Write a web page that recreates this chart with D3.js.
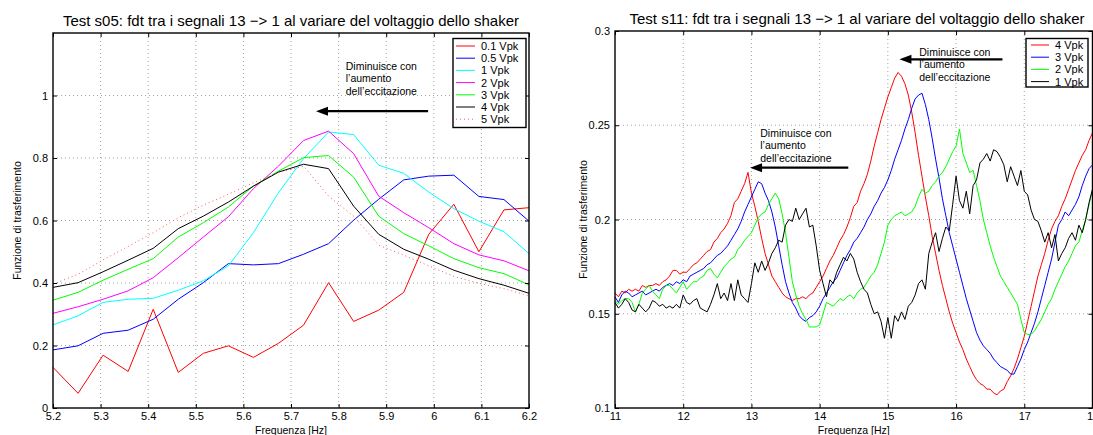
<!DOCTYPE html>
<html>
<head>
<meta charset="utf-8">
<script src="https://cdn.jsdelivr.net/npm/d3@7"></script>
<style>
body{margin:0;background:#fff;}
svg{display:block;font-family:"Liberation Sans",Arial,Helvetica,sans-serif;}
.grid line{stroke:#8c8c8c;stroke-width:0.8;stroke-dasharray:1,3;}
.axis text{font-size:11px;fill:#000;}
.axis line{stroke:#000;}
.axis path{display:none;}
</style>
</head>
<body>
<svg id="chart" width="1093" height="435"></svg>
<script>
// Test s05 : 20 campioni fra 5.2 e 6.2 Hz
const s05_freq = d3.range(20).map(i => 5.2 + i / 19);
const s05_01 = [0.130,0.047,0.169,0.117,0.316,0.114,0.175,0.199,0.162,0.207,0.265,0.401,0.277,0.313,0.370,0.556,0.652,0.500,0.634,0.641];
const s05_05 = [0.186,0.199,0.239,0.249,0.284,0.348,0.401,0.462,0.458,0.462,0.492,0.526,0.601,0.668,0.730,0.742,0.745,0.677,0.667,0.598];
const s05_1 = [0.266,0.295,0.338,0.348,0.351,0.377,0.407,0.455,0.561,0.689,0.798,0.883,0.875,0.777,0.751,0.691,0.638,0.598,0.564,0.494];
const s05_2 = [0.303,0.324,0.348,0.375,0.417,0.481,0.547,0.612,0.702,0.774,0.856,0.886,0.814,0.678,0.625,0.577,0.526,0.490,0.471,0.439];
const s05_3 = [0.345,0.370,0.409,0.444,0.478,0.547,0.593,0.643,0.710,0.758,0.801,0.808,0.739,0.614,0.558,0.519,0.478,0.449,0.430,0.394];
const s05_4 = [0.386,0.401,0.436,0.473,0.511,0.574,0.614,0.659,0.710,0.755,0.780,0.766,0.646,0.556,0.508,0.476,0.441,0.414,0.393,0.367];
const s05_5 = [0.396,0.428,0.474,0.517,0.561,0.609,0.649,0.684,0.721,0.753,0.774,0.678,0.614,0.521,0.489,0.455,0.421,0.399,0.382,0.359];
const s05_labels = ['0.1 Vpk','0.5 Vpk','1 Vpk','2 Vpk','3 Vpk','4 Vpk','5 Vpk'];
const s05_xticks = [5.2,5.3,5.4,5.5,5.6,5.7,5.8,5.9,6,6.1,6.2];
const s05_yticks = [0,0.2,0.4,0.6,0.8,1];

// Test s11 : passo 0.05 Hz fra 11 e 18 Hz
const s11_freq = d3.range(141).map(i => 11 + i * 0.05);
const s11_4 = [
  0.161,0.159,0.162,0.161,0.163,0.162,0.163,0.162,0.165,0.164,0.165,0.165,0.166,0.165,0.167,0.168,0.170,0.173,0.173,0.171,
  0.172,0.172,0.174,0.176,0.177,0.179,0.181,0.183,0.184,0.188,0.190,0.193,0.195,0.198,0.202,0.209,0.211,0.215,0.219,0.225,
  0.214,0.207,0.199,0.190,0.182,0.176,0.170,0.167,0.164,0.161,0.159,0.158,0.157,0.158,0.158,0.159,0.158,0.160,0.161,0.164,
  0.167,0.170,0.174,0.178,0.181,0.185,0.189,0.192,0.196,0.201,0.207,0.209,0.215,0.219,0.224,0.231,0.239,0.246,0.253,0.259,
  0.265,0.270,0.275,0.278,0.276,0.272,0.266,0.257,0.246,0.234,0.223,0.212,0.202,0.191,0.182,0.173,0.165,0.158,0.151,0.145,
  0.140,0.135,0.131,0.126,0.122,0.118,0.115,0.113,0.112,0.110,0.110,0.108,0.107,0.109,0.110,0.114,0.117,0.121,0.126,0.132,
  0.138,0.146,0.154,0.162,0.170,0.176,0.182,0.189,0.195,0.199,0.202,0.207,0.211,0.216,0.221,0.226,0.230,0.234,0.237,0.242,
  0.246];
const s11_3 = [
  0.159,0.156,0.160,0.162,0.161,0.159,0.160,0.161,0.162,0.160,0.161,0.162,0.163,0.162,0.164,0.165,0.166,0.165,0.167,0.166,
  0.168,0.167,0.170,0.171,0.172,0.173,0.174,0.176,0.177,0.179,0.181,0.182,0.184,0.186,0.189,0.192,0.195,0.199,0.204,0.208,
  0.212,0.216,0.220,0.219,0.214,0.210,0.204,0.196,0.186,0.176,0.167,0.161,0.156,0.153,0.149,0.147,0.146,0.148,0.149,0.151,
  0.154,0.158,0.161,0.164,0.167,0.169,0.173,0.177,0.181,0.184,0.188,0.190,0.193,0.196,0.200,0.203,0.207,0.210,0.214,0.217,
  0.221,0.226,0.232,0.237,0.242,0.248,0.253,0.259,0.264,0.266,0.267,0.261,0.253,0.243,0.232,0.222,0.211,0.202,0.193,0.186,
  0.179,0.172,0.165,0.158,0.152,0.146,0.140,0.136,0.133,0.131,0.129,0.126,0.124,0.122,0.121,0.120,0.118,0.118,0.122,0.126,
  0.131,0.135,0.140,0.145,0.151,0.158,0.165,0.172,0.179,0.188,0.197,0.200,0.204,0.202,0.205,0.208,0.212,0.218,0.223,0.227,
  0.229];
const s11_2 = [
  0.157,0.155,0.157,0.158,0.158,0.156,0.151,0.155,0.161,0.163,0.165,0.162,0.160,0.158,0.163,0.165,0.165,0.163,0.161,0.164,
  0.167,0.163,0.165,0.167,0.167,0.169,0.170,0.173,0.174,0.171,0.169,0.172,0.175,0.177,0.179,0.180,0.184,0.186,0.189,0.191,
  0.193,0.197,0.201,0.203,0.204,0.208,0.211,0.214,0.211,0.203,0.193,0.180,0.167,0.160,0.154,0.150,0.147,0.143,0.143,0.143,
  0.144,0.150,0.156,0.155,0.154,0.156,0.158,0.157,0.159,0.160,0.158,0.161,0.163,0.164,0.167,0.170,0.172,0.176,0.182,0.188,
  0.197,0.200,0.202,0.203,0.204,0.202,0.203,0.204,0.207,0.212,0.216,0.214,0.215,0.218,0.220,0.223,0.225,0.228,0.232,0.236,
  0.239,0.248,0.235,0.230,0.225,0.226,0.218,0.210,0.200,0.193,0.186,0.180,0.175,0.170,0.167,0.164,0.161,0.158,0.155,0.147,
  0.140,0.139,0.139,0.141,0.144,0.147,0.151,0.155,0.158,0.163,0.167,0.171,0.175,0.178,0.182,0.186,0.188,0.194,0.200,0.208,
  0.216];
const s11_1 = [
  0.156,0.153,0.155,0.158,0.156,0.152,0.151,0.155,0.153,0.151,0.153,0.157,0.156,0.154,0.155,0.153,0.154,0.153,0.155,0.153,
  0.160,0.156,0.155,0.157,0.158,0.153,0.152,0.151,0.155,0.160,0.166,0.158,0.161,0.157,0.166,0.157,0.168,0.160,0.158,0.156,
  0.166,0.177,0.172,0.178,0.173,0.177,0.182,0.185,0.189,0.188,0.197,0.200,0.199,0.206,0.200,0.203,0.206,0.196,0.197,0.186,
  0.173,0.166,0.159,0.168,0.166,0.172,0.176,0.180,0.178,0.182,0.179,0.172,0.167,0.163,0.161,0.155,0.150,0.151,0.146,0.137,
  0.148,0.137,0.149,0.146,0.151,0.147,0.154,0.156,0.160,0.166,0.168,0.163,0.182,0.188,0.193,0.183,0.190,0.196,0.194,0.208,
  0.223,0.210,0.206,0.215,0.203,0.218,0.221,0.230,0.232,0.235,0.231,0.237,0.236,0.233,0.229,0.220,0.228,0.223,0.218,0.226,
  0.215,0.213,0.205,0.200,0.199,0.194,0.188,0.193,0.185,0.192,0.178,0.182,0.185,0.190,0.193,0.189,0.197,0.193,0.200,0.209,
  0.216];
const s11_labels = ['4 Vpk','3 Vpk','2 Vpk','1 Vpk'];
const s11_xticks = [11,12,13,14,15,16,17,18];
const s11_yticks = [0.1,0.15,0.2,0.25,0.3];

const note_lines = ['Diminuisce con', 'l\u2019aumento', 'dell\u2019eccitazione'];

const svg = d3.select('#chart');
const fmt = d3.format('~g');

function draw_arrow(g, x_tail, x_tip, y0){
    g.append('line')
        .attr('x1', x_tail).attr('x2', x_tip + 8)
        .attr('y1', y0).attr('y2', y0)
        .attr('stroke', '#000').attr('stroke-width', 2.2);
    g.append('path')
        .attr('d', `M${x_tip},${y0} L${x_tip + 12},${y0 - 4.5} L${x_tip + 12},${y0 + 4.5} Z`)
        .attr('fill', '#000');
}

function draw_panel(opt){
    const g = svg.append('g');
    const x = d3.scaleLinear(opt.x_domain, [opt.left, opt.right]);
    const y = d3.scaleLinear(opt.y_domain, [opt.bottom, opt.top]);

    // griglia tratteggiata
    const grid = g.append('g').attr('class', 'grid');
    grid.selectAll('.gx')
        .data(opt.xticks.filter(d => d > opt.x_domain[0] && d < opt.x_domain[1]))
        .join('line')
        .attr('x1', d => x(d)).attr('x2', d => x(d))
        .attr('y1', opt.top).attr('y2', opt.bottom);
    grid.selectAll('.gy')
        .data(opt.yticks.filter(d => d > opt.y_domain[0] && d < opt.y_domain[1]))
        .join('line')
        .attr('x1', opt.left).attr('x2', opt.right)
        .attr('y1', d => y(d)).attr('y2', d => y(d));

    // curve
    const line = d3.line().x((d, i) => x(opt.freq[i])).y(d => y(d));
    g.append('g').selectAll('path')
        .data(opt.series)
        .join('path')
        .attr('d', d => line(d.values))
        .attr('fill', 'none')
        .attr('stroke', d => d.color)
        .attr('stroke-width', 1)
        .attr('stroke-dasharray', d => d.dash || null);

    // assi, tacche verso l'interno
    g.append('g').attr('class', 'axis')
        .attr('transform', `translate(0,${opt.bottom})`)
        .call(d3.axisBottom(x).tickValues(opt.xticks).tickFormat(fmt).tickSizeInner(-4).tickSizeOuter(0).tickPadding(4));
    g.append('g').attr('class', 'axis')
        .attr('transform', `translate(${opt.left},0)`)
        .call(d3.axisLeft(y).tickValues(opt.yticks).tickFormat(fmt).tickSizeInner(-4).tickSizeOuter(0).tickPadding(5));
    g.append('g').attr('class', 'axis')
        .attr('transform', `translate(0,${opt.top})`)
        .call(d3.axisTop(x).tickValues(opt.xticks).tickFormat('').tickSizeInner(-4).tickSizeOuter(0));
    g.append('g').attr('class', 'axis')
        .attr('transform', `translate(${opt.right},0)`)
        .call(d3.axisRight(y).tickValues(opt.yticks).tickFormat('').tickSizeInner(-4).tickSizeOuter(0));

    g.append('rect')
        .attr('x', opt.left).attr('y', opt.top)
        .attr('width', opt.right - opt.left).attr('height', opt.bottom - opt.top)
        .attr('fill', 'none').attr('stroke', '#000').attr('stroke-width', 1.4);

    // titoli ed etichette
    g.append('text')
        .attr('x', opt.title_x).attr('y', opt.title_y)
        .attr('text-anchor', 'middle')
        .style('font-size', '15px')
        .text(opt.title);
    g.append('text')
        .attr('x', (opt.left + opt.right) / 2).attr('y', 434)
        .attr('text-anchor', 'middle')
        .style('font-size', '10.5px')
        .text('Frequenza [Hz]');
    g.append('text')
        .attr('transform', `translate(${opt.ylabel_x},${(opt.top + opt.bottom) / 2}) rotate(-90)`)
        .attr('text-anchor', 'middle')
        .style('font-size', '10.5px')
        .text('Funzione di trasferimento');

    // note con freccia
    opt.notes.forEach(n => {
        const t = g.append('text')
            .attr('x', x(n.tx)).attr('y', y(n.ty))
            .style('font-size', '10.5px');
        note_lines.forEach((s, i) => {
            t.append('tspan').attr('x', x(n.tx)).attr('dy', i === 0 ? 0 : 12.3).text(s);
        });
        draw_arrow(g, x(n.from), x(n.to), y(n.ay));
    });

    // legenda
    const lg = g.append('g').attr('transform', `translate(${opt.legend.x},${opt.legend.y})`);
    lg.append('rect')
        .attr('width', opt.legend.w)
        .attr('height', opt.legend.h)
        .attr('fill', '#fff').attr('stroke', '#000').attr('stroke-width', 1.4);
    const item = lg.selectAll('.item')
        .data(opt.series)
        .join('g')
        .attr('transform', (d, i) => `translate(0,${opt.legend.first + i * opt.legend.step})`);
    item.append('line')
        .attr('x1', opt.legend.l1).attr('x2', opt.legend.l2)
        .attr('stroke', d => d.color)
        .attr('stroke-width', 1)
        .attr('stroke-dasharray', d => d.dash || null);
    item.append('text')
        .attr('x', opt.legend.tx).attr('dy', '0.36em')
        .style('font-size', '11px')
        .text(d => d.label);
}

const s05_colors = ['#ff0000','#0000ff','#00ffff','#ff00ff','#00ff00','#000000','#ff5a5a'];
const s11_colors = ['#ff0000','#0000ff','#00ff00','#000000'];

draw_panel({
    left: 53, right: 529, top: 33, bottom: 408,
    x_domain: [5.2, 6.2], y_domain: [0, 1.2],
    xticks: s05_xticks, yticks: s05_yticks,
    freq: s05_freq,
    series: [s05_01, s05_05, s05_1, s05_2, s05_3, s05_4, s05_5].map((v, i) => ({
        values: v, label: s05_labels[i], color: s05_colors[i], dash: i === 6 ? '1,3' : null
    })),
    title: 'Test s05: fdt tra i segnali 13 \u2212> 1 al variare del voltaggio dello shaker',
    title_x: 291, title_y: 26,
    ylabel_x: 21,
    notes: [{tx: 5.815, ty: 1.081, from: 5.988, to: 5.7525, ay: 0.950}],
    legend: {x: 453, y: 38.5, w: 73, h: 89, first: 7.5, step: 12.2, l1: 3, l2: 22, tx: 28}
});

draw_panel({
    left: 615, right: 1092.5, top: 31, bottom: 408,
    x_domain: [11, 18], y_domain: [0.1, 0.3],
    xticks: s11_xticks, yticks: s11_yticks,
    freq: s11_freq,
    series: [s11_4, s11_3, s11_2, s11_1].map((v, i) => ({
        values: v, label: s11_labels[i], color: s11_colors[i]
    })),
    title: 'Test s11: fdt tra i segnali 13 \u2212> 1 al variare del voltaggio dello shaker',
    title_x: 857, title_y: 24,
    ylabel_x: 587,
    notes: [
        {tx: 15.46, ty: 0.2867, from: 16.68, to: 15.17, ay: 0.285},
        {tx: 13.13, ty: 0.2438, from: 14.42, to: 12.98, ay: 0.2275}
    ],
    legend: {x: 1026, y: 38.5, w: 62, h: 48.5, first: 6.5, step: 12.2, l1: 5, l2: 23, tx: 29}
});
</script>
</body>
</html>
